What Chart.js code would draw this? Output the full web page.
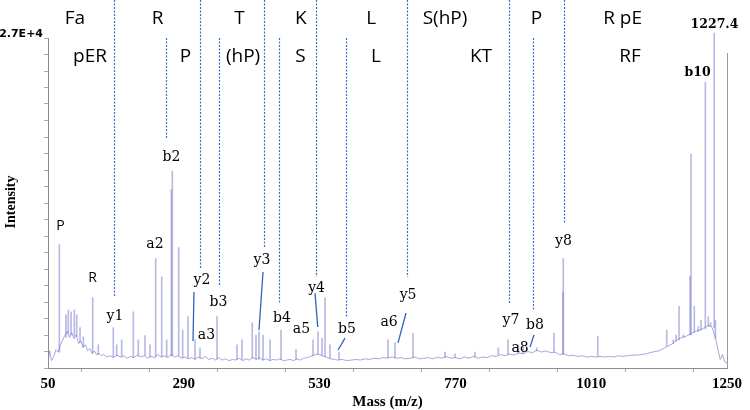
<!DOCTYPE html>
<html>
<head>
<meta charset="utf-8">
<script src="https://cdn.jsdelivr.net/npm/chart.js@4.4.1/dist/chart.umd.min.js"></script>
<style>
  html, body { margin: 0; padding: 0; background: #fff; }
</style>
</head>
<body>
<canvas id="myChart" width="750" height="410"></canvas>
<script>
// noisy baseline of the spectrum (m/z, intensity)
const baseMz = [
  50, 53, 56, 60, 64, 68, 72, 76, 80, 84,
  88, 92, 96, 100, 104, 108, 112, 116, 120, 124,
  128, 132, 136, 140, 144, 148, 154, 160, 166, 172,
  178, 184, 190, 196, 202, 208, 214, 220, 226, 232,
  238, 244, 250, 256, 262, 268, 274, 280, 286, 292,
  298, 304, 310, 316, 322, 328, 334, 340, 346, 352,
  358, 364, 370, 376, 382, 388, 394, 400, 406, 412,
  418, 424, 430, 436, 442, 448, 454, 460, 466, 472,
  478, 484, 490, 496, 502, 508, 514, 520, 526, 532,
  538, 544, 550, 556, 562, 570, 578, 586, 594, 602,
  610, 618, 626, 634, 642, 650, 658, 666, 674, 682,
  690, 698, 706, 714, 722, 730, 738, 746, 754, 762,
  770, 778, 786, 794, 802, 810, 818, 826, 834, 842,
  850, 858, 866, 874, 882, 890, 898, 906, 914, 922,
  930, 938, 946, 954, 962, 970, 978, 986, 994, 1002,
  1010, 1018, 1026, 1034, 1042, 1050, 1058, 1066, 1074, 1082,
  1090, 1098, 1106, 1114, 1122, 1130, 1138, 1146, 1154, 1162,
  1170, 1178, 1186, 1194, 1202, 1210, 1218, 1224, 1230, 1234,
  1238, 1242, 1246, 1250
];
const baseInt = [
  500, 1400, 600, 900, 1500, 1300, 1900, 2300, 2700, 3000,
  2500, 2900, 2400, 2700, 2000, 2200, 1700, 1900, 1400, 1600,
  1200, 1400, 1100, 1200, 1000, 1100, 900, 1000, 850, 1050,
  900, 1000, 800, 950, 850, 1050, 900, 1000, 800, 950,
  850, 1100, 900, 1000, 850, 1100, 900, 1000, 800, 900,
  750, 850, 700, 900, 750, 950, 700, 800, 650, 850,
  650, 750, 600, 700, 650, 800, 600, 750, 650, 850,
  700, 850, 650, 750, 600, 700, 650, 750, 600, 650,
  700, 600, 750, 650, 800, 850, 950, 1050, 1150, 1050,
  950, 850, 750, 700, 650, 700, 600, 650, 700, 650,
  750, 700, 800, 750, 850, 800, 900, 800, 850, 750,
  800, 900, 750, 800, 850, 750, 900, 800, 950, 800,
  850, 750, 900, 800, 950, 800, 900, 850, 1000, 950,
  1100, 1000, 1150, 1050, 1250, 1150, 1350, 1250, 1450, 1300,
  1400, 1250, 1300, 1100, 1150, 1000, 1050, 950, 1000, 900,
  950, 900, 950, 900, 950, 900, 1000, 950, 1000, 1050,
  1050, 1100, 1150, 1250, 1350, 1400, 1600, 1800, 2000, 2300,
  2500, 2600, 2800, 3000, 3100, 3300, 3500, 3300, 2400, 1500,
  700, 1100, 500, 400
];

// peaks: m/z, apex intensity, local baseline
const peakMz = [
  70.0, 81.8, 85.9, 90.7, 96.5, 100.7, 106.6, 112.4, 129.0, 138.9,
  165.4, 171.4, 180.2, 200.8, 209.6, 221.4, 230.3, 240.3, 251.0, 259.8,
  268.0, 269.7, 281.0, 288.0, 297.4, 309.8, 318.6, 348.7, 384.0, 392.9,
  411.0, 417.6, 422.9, 430.0, 442.4, 461.8, 488.3, 518.4, 527.2, 534.3,
  539.6, 548.4, 564.3, 650.9, 663.3, 695.1, 751.6, 769.3, 804.7, 845.9,
  863.0, 881.2, 889.5, 913.7, 944.3, 960.0, 960.7, 1021.6, 1143.5, 1155.0,
  1160.0, 1165.3, 1173.0, 1184.7, 1186.5, 1192.2, 1199.3, 1204.0, 1211.7, 1217.0,
  1221.2, 1227.4, 1229.5
];
const peakInt = [
  10100, 4350, 4750, 4600, 4750, 4350, 3300, 2550, 5750, 1900,
  3300, 1900, 2300, 4600, 2300, 2650, 1900, 8950, 7450, 2300,
  14600, 16100, 9850, 3100, 4200, 2300, 1650, 4200, 1900, 2300,
  3700, 2700, 2950, 2700, 2300, 3100, 1500, 2300, 2950, 2450,
  5750, 1900, 1300, 2300, 2050, 2850, 1300, 1150, 1300, 1650,
  2300, 1900, 1750, 1650, 2850, 6200, 8950, 2600, 3100, 2300,
  2700, 5050, 2700, 7500, 17500, 5050, 3400, 3900, 23400, 4200,
  3700, 27400, 3900
];
const peakBase = [
  1300, 2500, 2800, 2700, 2600, 2600, 2100, 1700, 1200, 1100,
  900, 1000, 900, 900, 1000, 1000, 900, 900, 900, 900,
  1000, 1000, 1000, 850, 850, 750, 800, 750, 700, 700,
  800, 750, 700, 650, 650, 700, 700, 1000, 1100, 1000,
  950, 800, 700, 850, 850, 850, 850, 850, 900, 1100,
  1100, 1200, 1200, 1400, 1300, 1150, 1150, 950, 1800, 2000,
  2200, 2300, 2500, 2700, 2700, 2900, 3000, 3100, 3200, 3400,
  3400, 3300, 2400
];

// dashed cleavage lines: m/z, start row (1 = very top, 2 = second row), end intensity
const cutMz = [166.6, 317.8, 352.2, 431.8, 457.7, 523.7, 576.2, 684.5, 864.8, 907.2, 961.1, 259.1];
const cutRow = [1, 1, 2, 1, 2, 1, 2, 1, 1, 2, 1, 2];
const cutEnd = [5810, 8180, 6790, 9900, 5320, 7440, 4170, 7440, 5240, 4740, 11860, 18810];

// sequence letters above the spectrum
const seqTop = ['Fa', 'R', 'T', 'K', 'L', 'S(hP)', 'P', 'R pE'];
const seqTopMz = [97.7, 243.5, 388.5, 497, 621, 751.7, 913.4, 1065.4];
const seqBottom = ['pER', 'P', '(hP)', 'S', 'L', 'KT', 'RF'];
const seqBottomMz = [124.2, 293, 394.7, 496.2, 629.7, 815.3, 1078.7];

// fragment ion labels (centre in m/z, intensity)
const fragLabels = ['P', 'R', 'y1', 'a2', 'b2', 'y2', 'a3', 'b3', 'y3', 'b4', 'a5', 'y4', 'b5', 'y5', 'a6', 'y7', 'b8', 'a8', 'y8', 'b10', '1227.4'];
const fragMz = [72.1, 128.7, 168.4, 239.1, 268.3, 322.2, 330.1, 351.3, 428.2, 463.6, 498, 524.6, 578.5, 686.3, 652.7, 868.3, 910.7, 884.2, 961.1, 1198, 1227.9];
const fragInt = [11620, 7400, 4250, 10140, 17220, 7200, 2700, 5400, 8830, 4090, 3150, 6540, 3190, 5970, 3720, 3930, 3520, 1640, 10390, 24130, 28060];

// solid leader lines from label to peak
const leadFromMz = [308.0, 430.0, 521.9, 574.9, 682.7, 908.9];
const leadFromInt = [6220, 7850, 6130, 2450, 4500, 2700];
const leadToMz = [306.3, 422.9, 526.7, 562.5, 668.6, 901.9];
const leadToInt = [2210, 3110, 3350, 1470, 2050, 1720];

const annotate = {
  id: 'annotate',
  afterDraw(chart) {
    const { ctx, chartArea } = chart;
    const xs = chart.scales.x;
    const ys = chart.scales.y;
    ctx.save();

    // right frame line
    ctx.strokeStyle = '#9a9a9a';
    ctx.lineWidth = 1;
    ctx.beginPath();
    ctx.moveTo(Math.round(chartArea.right) + 0.5, chartArea.top + 15);
    ctx.lineTo(Math.round(chartArea.right) + 0.5, chartArea.bottom);
    ctx.stroke();

    // dashed lines
    ctx.strokeStyle = '#3a6ec8';
    ctx.lineWidth = 1.2;
    ctx.setLineDash([2, 1.5]);
    cutMz.forEach((m, i) => {
      const px = Math.round(xs.getPixelForValue(m)) + 0.5;
      const top = cutRow[i] === 1 ? 0 : chartArea.top;
      ctx.beginPath();
      ctx.moveTo(px, top);
      ctx.lineTo(px, ys.getPixelForValue(cutEnd[i]));
      ctx.stroke();
    });
    ctx.setLineDash([]);

    // leaders
    ctx.strokeStyle = '#2f63c2';
    ctx.lineWidth = 1.3;
    leadFromMz.forEach((m, i) => {
      ctx.beginPath();
      ctx.moveTo(xs.getPixelForValue(m), ys.getPixelForValue(leadFromInt[i]));
      ctx.lineTo(xs.getPixelForValue(leadToMz[i]), ys.getPixelForValue(leadToInt[i]));
      ctx.stroke();
    });

    // sequence rows
    ctx.fillStyle = '#000';
    ctx.textAlign = 'center';
    ctx.textBaseline = 'middle';
    ctx.font = '19px "Open Sans"';
    seqTop.forEach((t, i) => ctx.fillText(t, xs.getPixelForValue(seqTopMz[i]), 19));
    seqBottom.forEach((t, i) => ctx.fillText(t, xs.getPixelForValue(seqBottomMz[i]), 57));

    // fragment labels
    fragLabels.forEach((t, i) => {
      if (t === 'P' || t === 'R') ctx.font = '14px "Open Sans"';
      else if (t === 'b10' || t === '1227.4') ctx.font = 'bold 12.5px "DejaVu Serif"';
      else ctx.font = '14px "DejaVu Serif"';
      ctx.fillText(t, xs.getPixelForValue(fragMz[i]), ys.getPixelForValue(fragInt[i]));
    });

    // axis titles
    ctx.font = 'bold 15px "Liberation Serif"';
    ctx.fillText('Mass (m/z)', (chartArea.left + chartArea.right) / 2, 402);
    ctx.translate(11, 202);
    ctx.rotate(-Math.PI / 2);
    ctx.font = 'bold 14px "Liberation Serif"';
    ctx.fillText('Intensity', 0, 0);
    ctx.restore();
  }
};

const ctx = document.getElementById('myChart');

new Chart(ctx, {
  data: {
    datasets: [
      {
        type: 'bar',
        data: peakMz.map((m, i) => ({ x: m, y: [peakBase[i], peakInt[i]] })),
        backgroundColor: 'rgba(115, 115, 205, 0.5)',
        barThickness: 1,
        clip: { left: 0, top: 10, right: 0, bottom: 0 },
      },
      {
        type: 'line',
        data: baseMz.map((m, i) => ({ x: m, y: baseInt[i] })),
        borderColor: 'rgba(130, 130, 210, 0.7)',
        borderWidth: 1,
        pointRadius: 0,
        tension: 0,
      },
    ],
  },
  options: {
    responsive: false,
    animation: false,
    devicePixelRatio: 1,
    layout: { padding: { top: 38, right: 23, left: 0, bottom: 0 } },
    plugins: { legend: { display: false }, tooltip: { enabled: false } },
    scales: {
      x: {
        type: 'linear',
        min: 50,
        max: 1250,
        offset: false,
        afterFit: (s) => { s.height = 42; },
        border: { color: '#8c8c8c' },
        grid: { drawOnChartArea: false, tickLength: 4, color: '#aaa' },
        ticks: {
          stepSize: 120,
          autoSkip: false,
          maxRotation: 0,
          padding: 3,
          color: '#000',
          font: { family: 'Liberation Serif', size: 15, weight: 'bold' },
          callback: (v) => ((v - 50) % 240 === 0 ? v : ''),
        },
      },
      y: {
        type: 'linear',
        min: 0,
        max: 27000,
        afterFit: (s) => { s.width = 48; },
        border: { color: '#8c8c8c' },
        grid: { drawOnChartArea: false, tickLength: 4, color: '#aaa' },
        ticks: {
          stepSize: 1350,
          autoSkip: false,
          padding: 1,
          labelOffset: -4,
          color: '#000',
          font: { family: 'DejaVu Sans', size: 11, weight: 'bold' },
          callback: (v) => (Math.abs(v - 27000) < 1 ? '2.7E+4' : ''),
        },
      },
    },
  },
  plugins: [annotate],
});
</script>
</body>
</html>
